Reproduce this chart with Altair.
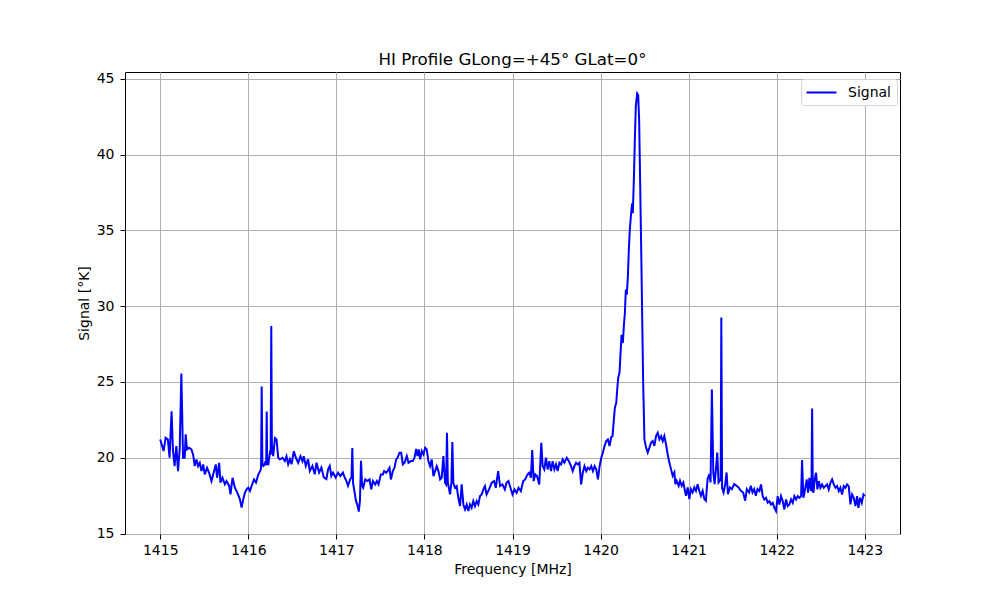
import altair as alt
import pandas as pd

# Frequency channels (MHz)
freq_mhz = [
    1415.000, 1415.011, 1415.038, 1415.061, 1415.087, 1415.106, 1415.129, 1415.144, 1415.163, 1415.183,
    1415.202, 1415.221, 1415.240, 1415.259, 1415.278, 1415.289, 1415.304, 1415.327, 1415.354, 1415.373,
    1415.392, 1415.411, 1415.430, 1415.449, 1415.468, 1415.487, 1415.506, 1415.532, 1415.555, 1415.582,
    1415.601, 1415.631, 1415.646, 1415.669, 1415.684, 1415.707, 1415.734, 1415.753, 1415.783, 1415.798,
    1415.821, 1415.848, 1415.875, 1415.905, 1415.924, 1415.943, 1415.962, 1415.981, 1416.000, 1416.019,
    1416.038, 1416.065, 1416.087, 1416.114, 1416.133, 1416.145, 1416.152, 1416.160, 1416.172, 1416.189,
    1416.203, 1416.209, 1416.215, 1416.228, 1416.245, 1416.254, 1416.261, 1416.268, 1416.283, 1416.302,
    1416.321, 1416.340, 1416.358, 1416.389, 1416.415, 1416.434, 1416.453, 1416.472, 1416.491, 1416.517,
    1416.540, 1416.566, 1416.592, 1416.615, 1416.630, 1416.653, 1416.679, 1416.698, 1416.728, 1416.755,
    1416.774, 1416.804, 1416.830, 1416.857, 1416.887, 1416.906, 1416.925, 1416.943, 1416.962, 1416.992,
    1417.019, 1417.045, 1417.075, 1417.094, 1417.113, 1417.132, 1417.158, 1417.172, 1417.181, 1417.190,
    1417.205, 1417.222, 1417.240, 1417.255, 1417.268, 1417.280, 1417.292, 1417.304, 1417.328, 1417.354,
    1417.377, 1417.396, 1417.415, 1417.441, 1417.460, 1417.479, 1417.505, 1417.528, 1417.543, 1417.566,
    1417.581, 1417.603, 1417.619, 1417.641, 1417.660, 1417.679, 1417.694, 1417.717, 1417.736, 1417.755,
    1417.774, 1417.800, 1417.819, 1417.845, 1417.868, 1417.887, 1417.906, 1417.921, 1417.936, 1417.951,
    1417.970, 1417.989, 1418.008, 1418.026, 1418.045, 1418.064, 1418.083, 1418.102, 1418.121, 1418.140,
    1418.159, 1418.178, 1418.196, 1418.215, 1418.234, 1418.246, 1418.256, 1418.266, 1418.291, 1418.306,
    1418.317, 1418.328, 1418.347, 1418.366, 1418.385, 1418.404, 1418.423, 1418.442, 1418.461, 1418.480,
    1418.499, 1418.517, 1418.536, 1418.555, 1418.574, 1418.593, 1418.612, 1418.631, 1418.650, 1418.669,
    1418.687, 1418.706, 1418.734, 1418.764, 1418.791, 1418.810, 1418.837, 1418.859, 1418.886, 1418.913,
    1418.932, 1418.954, 1418.977, 1419.000, 1419.023, 1419.046, 1419.068, 1419.095, 1419.122, 1419.144,
    1419.171, 1419.190, 1419.209, 1419.224, 1419.240, 1419.259, 1419.278, 1419.304, 1419.327, 1419.342,
    1419.361, 1419.380, 1419.399, 1419.418, 1419.437, 1419.456, 1419.475, 1419.494, 1419.513, 1419.532,
    1419.551, 1419.570, 1419.589, 1419.616, 1419.639, 1419.665, 1419.684, 1419.703, 1419.722, 1419.741,
    1419.760, 1419.779, 1419.798, 1419.817, 1419.837, 1419.856, 1419.875, 1419.894, 1419.913, 1419.932,
    1419.951, 1419.970, 1419.989, 1420.008, 1420.026, 1420.045, 1420.064, 1420.083, 1420.102, 1420.121,
    1420.136, 1420.151, 1420.162, 1420.178, 1420.189, 1420.200, 1420.215, 1420.227, 1420.238, 1420.253,
    1420.264, 1420.276, 1420.287, 1420.298, 1420.310, 1420.321, 1420.332, 1420.347, 1420.359, 1420.366,
    1420.378, 1420.389, 1420.400, 1420.415, 1420.427, 1420.438, 1420.449, 1420.461, 1420.472, 1420.483,
    1420.498, 1420.517, 1420.535, 1420.555, 1420.573, 1420.592, 1420.611, 1420.630, 1420.649, 1420.668,
    1420.687, 1420.706, 1420.724, 1420.743, 1420.762, 1420.781, 1420.800, 1420.819, 1420.838, 1420.849,
    1420.864, 1420.887, 1420.902, 1420.921, 1420.940, 1420.958, 1420.970, 1420.989, 1421.008, 1421.026,
    1421.045, 1421.064, 1421.083, 1421.102, 1421.121, 1421.140, 1421.159, 1421.178, 1421.196, 1421.215,
    1421.234, 1421.249, 1421.264, 1421.280, 1421.295, 1421.310, 1421.325, 1421.340, 1421.355, 1421.364,
    1421.371, 1421.380, 1421.397, 1421.415, 1421.431, 1421.446, 1421.468, 1421.491, 1421.517, 1421.544,
    1421.567, 1421.593, 1421.619, 1421.642, 1421.661, 1421.687, 1421.706, 1421.725, 1421.744, 1421.763,
    1421.782, 1421.803, 1421.822, 1421.841, 1421.860, 1421.879, 1421.898, 1421.917, 1421.936, 1421.955,
    1421.973, 1421.992, 1422.011, 1422.030, 1422.049, 1422.068, 1422.087, 1422.106, 1422.125, 1422.144,
    1422.163, 1422.182, 1422.201, 1422.220, 1422.239, 1422.258, 1422.277, 1422.288, 1422.303, 1422.322,
    1422.341, 1422.356, 1422.371, 1422.386, 1422.395, 1422.402, 1422.410, 1422.417, 1422.432, 1422.447,
    1422.462, 1422.477, 1422.496, 1422.515, 1422.534, 1422.553, 1422.572, 1422.591, 1422.610, 1422.629,
    1422.648, 1422.667, 1422.686, 1422.705, 1422.723, 1422.742, 1422.761, 1422.780, 1422.799, 1422.818,
    1422.837, 1422.856, 1422.875, 1422.894, 1422.913, 1422.928, 1422.947, 1422.966, 1422.985, 1423.000,
]

# Signal (deg K), one value per channel above
signal_k = [
    21.21, 20.99, 20.44, 21.32, 21.21, 20.00, 23.07, 20.55, 19.45, 20.77,
    19.12, 20.55, 25.55, 20.00, 20.00, 21.54, 20.55, 20.66, 20.55, 20.22,
    19.45, 19.89, 19.45, 19.67, 19.12, 19.56, 18.90, 19.34, 19.01, 18.46,
    18.90, 19.56, 18.68, 19.67, 18.36, 18.68, 18.25, 18.46, 18.14, 17.59,
    18.68, 18.03, 17.70, 17.26, 16.71, 17.26, 17.70, 17.92, 18.03, 17.81,
    18.14, 18.57, 18.36, 18.90, 19.10, 19.30, 24.70, 19.50, 19.45, 19.67,
    19.50, 23.05, 19.60, 19.57, 20.30, 20.20, 28.70, 20.80, 20.10, 21.30,
    21.20, 20.00, 19.90, 20.00, 19.78, 20.10, 19.57, 19.90, 19.57, 20.43,
    20.00, 19.67, 20.10, 19.78, 20.10, 19.46, 19.90, 19.13, 19.46, 18.91,
    19.67, 19.02, 19.35, 18.70, 18.59, 19.24, 19.46, 18.80, 19.02, 18.70,
    19.02, 18.80, 19.02, 18.70, 18.48, 18.15, 18.59, 18.70, 20.65, 18.30,
    17.80, 17.17, 16.85, 16.45, 17.20, 19.80, 18.15, 18.02, 18.57, 18.46,
    18.57, 17.91, 18.46, 18.24, 18.46, 18.24, 18.90, 18.90, 19.12, 19.01,
    19.12, 19.34, 18.57, 19.12, 19.34, 19.89, 20.00, 20.33, 20.33, 19.56,
    19.67, 20.11, 19.67, 19.78, 19.78, 20.00, 20.59, 20.11, 20.55, 19.89,
    20.44, 20.22, 20.66, 20.55, 19.78, 19.45, 19.89, 18.79, 19.12, 19.45,
    19.12, 18.57, 18.68, 20.11, 18.35, 18.24, 21.65, 18.35, 17.58, 18.35,
    21.03, 18.35, 18.02, 18.13, 17.36, 16.81, 18.24, 16.92, 16.59, 16.92,
    16.48, 16.92, 16.70, 17.14, 16.81, 17.14, 16.92, 17.47, 17.58, 17.91,
    18.13, 17.58, 17.91, 18.35, 18.46, 18.02, 19.12, 18.13, 18.24, 17.91,
    18.35, 18.46, 18.02, 17.58, 17.91, 17.69, 18.02, 17.80, 18.46, 18.57,
    18.90, 19.01, 18.68, 20.51, 18.46, 18.90, 18.79, 18.24, 20.99, 19.45,
    19.23, 20.00, 19.23, 19.78, 19.12, 19.78, 19.23, 19.56, 19.12, 19.67,
    19.56, 19.89, 19.67, 20.00, 19.78, 19.45, 19.12, 19.45, 19.67, 19.56,
    19.67, 18.24, 19.01, 19.45, 19.12, 19.34, 19.23, 19.45, 19.12, 19.45,
    19.23, 18.57, 19.45, 20.00, 20.33, 20.77, 21.10, 21.21, 20.77, 21.36,
    21.43, 22.52, 23.29, 23.62, 24.50, 25.27, 25.60, 26.92, 28.12, 27.57,
    28.67, 29.55, 31.09, 30.76, 31.96, 33.72, 35.04, 36.14, 36.79, 36.14,
    38.33, 40.97, 43.16, 44.04, 43.93, 42.28, 38.33, 33.94, 29.55, 25.16,
    21.20, 20.67, 20.34, 20.67, 21.00, 21.10, 20.78, 21.43, 21.65, 21.21,
    21.43, 21.10, 21.43, 20.89, 20.23, 19.68, 19.25, 18.81, 19.03, 18.26,
    18.48, 18.15, 18.48, 18.15, 18.37, 17.82, 17.49, 18.04, 17.28, 17.93,
    17.71, 18.04, 17.82, 18.26, 17.82, 17.49, 17.82, 17.28, 17.17, 18.59,
    18.92, 18.37, 24.50, 19.03, 18.26, 19.25, 20.34, 18.37, 18.48, 18.60,
    29.25, 18.00, 17.71, 18.26, 19.03, 17.60, 18.04, 17.93, 18.26, 18.15,
    18.04, 17.82, 17.71, 17.17, 17.93, 17.71, 18.15, 17.71, 17.93, 17.49,
    17.93, 17.80, 18.24, 17.47, 17.25, 17.36, 17.03, 17.14, 16.92, 17.03,
    16.70, 16.48, 17.47, 16.92, 17.47, 17.14, 16.59, 17.25, 16.81, 16.92,
    17.25, 17.03, 17.47, 17.25, 17.47, 17.36, 17.47, 19.85, 17.36, 17.91,
    18.57, 17.69, 18.68, 17.91, 17.80, 23.25, 17.80, 17.69, 18.57, 19.01,
    17.91, 18.46, 18.02, 18.24, 18.02, 18.13, 18.24, 17.91, 18.35, 18.57,
    18.24, 18.02, 18.13, 17.80, 18.02, 17.58, 18.13, 18.02, 18.24, 18.13,
    16.92, 17.58, 17.36, 16.81, 17.47, 16.70, 17.36, 17.03, 17.58, 17.47,
]

x_ticks = [1415, 1416, 1417, 1418, 1419, 1420, 1421, 1422, 1423]
y_ticks = [15, 20, 25, 30, 35, 40, 45]
series_name = "Signal"

df = pd.DataFrame({
    "freq": freq_mhz,
    "signal": signal_k,
    "series": [series_name] * len(freq_mhz),
    "order": list(range(len(freq_mhz))),
})

FONT = "DejaVu Sans"

chart = alt.Chart(df).mark_line(strokeWidth=2, clip=True).encode(
    x=alt.X("freq:Q",
            scale=alt.Scale(domain=[1414.6, 1423.4], nice=False, zero=False),
            axis=alt.Axis(values=x_ticks, format="d", title="Frequency [MHz]",
                          labelPadding=4, titlePadding=5)),
    y=alt.Y("signal:Q",
            scale=alt.Scale(domain=[14.97, 45.45], nice=False, zero=False),
            axis=alt.Axis(values=y_ticks, format="d", title="Signal [°K]",
                          labelPadding=6, titlePadding=5)),
    color=alt.Color("series:N",
                    scale=alt.Scale(domain=[series_name], range=["#0000ff"]),
                    title=None,
                    legend=alt.Legend(orient="none", legendX=676, legendY=7,
                                      symbolType="M-2,0H2", symbolSize=225,
                                      symbolStrokeWidth=2, symbolOffset=7,
                                      labelOffset=18,
                                      padding=5, strokeColor="#d5d5d5",
                                      fillColor="white", cornerRadius=3,
                                      labelFontSize=14, labelFont=FONT,
                                      labelColor="black")),
    order="order:Q",
).properties(
    width=775,
    height=462,
    padding={"left": 117, "top": 64, "right": 92, "bottom": 58},
    autosize="none",
    title=alt.TitleParams("HI Profile GLong=+45° GLat=0°", fontSize=16.7, font=FONT,
                          fontWeight="normal", color="black", offset=3),
).configure_view(
    stroke="black", strokeWidth=1,
).configure_axis(
    domain=False,
    grid=True,
    gridColor="#b0b0b0",
    gridWidth=1,
    tickColor="black",
    tickSize=5,
    tickWidth=1,
    labelFont=FONT,
    labelFontSize=14,
    labelColor="black",
    titleFont=FONT,
    titleFontSize=14,
    titleFontWeight="normal",
    titleColor="black",
)

chart.save("out.html", embed_options={"renderer": "svg", "actions": False})
